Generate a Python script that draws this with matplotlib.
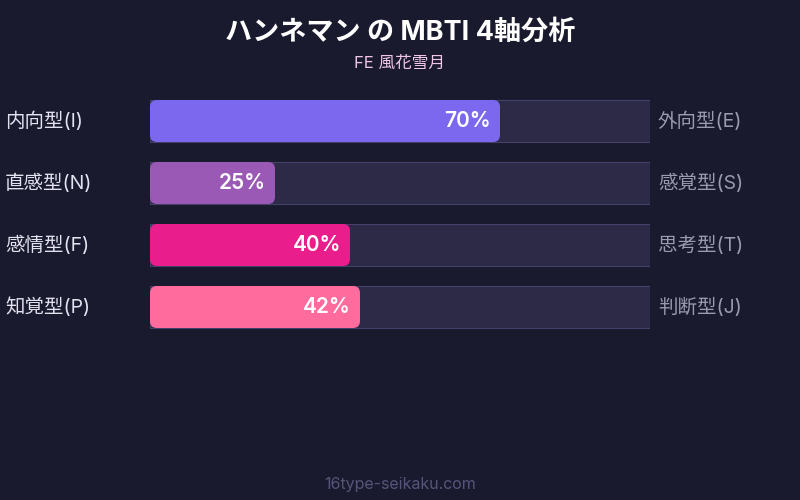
import matplotlib
matplotlib.use("Agg")
import matplotlib.pyplot as plt
from matplotlib.patches import FancyBboxPatch, Rectangle

plt.rcParams['font.family'] = ['Inter', 'Noto Sans CJK JP', 'DejaVu Sans']

title = "ハンネマン の MBTI 4軸分析"
subtitle = "FE 風花雪月"
footer = "16type-seikaku.com"
left_labels = ["内向型(I)", "直感型(N)", "感情型(F)", "知覚型(P)"]
right_labels = ["外向型(E)", "感覚型(S)", "思考型(T)", "判断型(J)"]
values = [70, 25, 40, 42]
colors = ["#7B68EE", "#9B59B6", "#E91E8C", "#FF6B9D"]

BG = "#1a1a2e"
fig = plt.figure(figsize=(8, 5), dpi=100, facecolor=BG)

# bar axes: x 150..650 px, y 90..338 px
ax = fig.add_axes([150/800, 1 - 338/500, 500/800, 248/500])
ax.set_facecolor(BG)
ax.set_xlim(0, 100)
ax.set_ylim(3.5, -0.5)
ax.axis('off')

bh = 42/62
px_x = 100/500
px_y = 4/248
aspect = px_y / px_x
for i, (v, c) in enumerate(zip(values, colors)):
    ax.add_patch(Rectangle((0, i - bh/2), 100, bh, facecolor="#2c2a47",
                           edgecolor="#43416a", lw=0.8, zorder=1))
    ax.add_patch(FancyBboxPatch((0, i - bh/2), v, bh,
                                boxstyle=f"round,pad=0,rounding_size={7*px_x}",
                                mutation_aspect=aspect, facecolor=c,
                                edgecolor='none', zorder=2))
    ax.text(v - 9*px_x, i, f"{v}%", ha='right', va='center', color='white',
            fontsize=15, fontweight='semibold', zorder=3)
    ax.text(-145*px_x, i, left_labels[i], ha='left', va='center',
            color='#e2e2f0', fontsize=14, clip_on=False)
    ax.text(100 + 8*px_x, i, right_labels[i], ha='left', va='center',
            color='#9a9ab0', fontsize=14, clip_on=False)

fig.text(0.5, 1 - 33/500, title, ha='center', va='center', color='white',
         fontsize=19.5, fontweight='bold')
fig.text(0.5, 1 - 63/500, subtitle, ha='center', va='center', color='#f0c6e6',
         fontsize=12)
fig.text(0.5, 1 - 484/500, footer, ha='center', va='center', color='#55557a',
         fontsize=11.5)

fig.savefig("out.png", dpi=100, facecolor=BG)
